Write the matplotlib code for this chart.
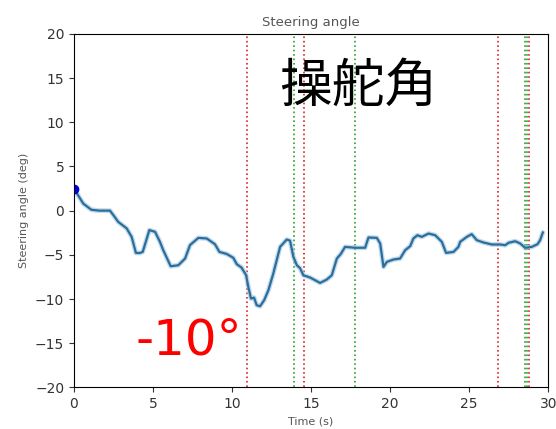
import matplotlib
matplotlib.use("Agg")
import matplotlib.pyplot as plt

plt.rcParams["font.family"] = ["DejaVu Sans", "Noto Sans CJK JP"]

# steering angle trace (s, deg)
time_s = [0.0, 0.1, 0.59, 1.1, 1.6, 2.28, 2.49, 2.8, 3.33, 3.65, 3.92, 4.15, 4.35,
          4.77, 5.13, 5.44, 5.65, 6.12, 6.6, 7.03, 7.34, 7.87, 8.4, 8.92, 9.2,
          9.66, 10.08, 10.3, 10.6, 10.89, 11.03, 11.2, 11.39, 11.56, 11.77,
          12.03, 12.3, 12.61, 13.04, 13.46, 13.67, 13.88, 14.1, 14.3, 14.51,
          14.94, 15.57, 15.99, 16.31, 16.63, 16.88, 17.15, 17.78, 18.42, 18.63,
          19.16, 19.37, 19.58, 19.79, 20.21, 20.63, 20.95, 21.27, 21.47, 21.73,
          22.0, 22.43, 22.85, 23.27, 23.54, 24.01, 24.32, 24.43, 24.85, 25.16,
          25.48, 25.9, 26.43, 26.96, 27.28, 27.49, 27.91, 28.23, 28.54, 28.96,
          29.32, 29.49, 29.66]
angle_deg = [2.4, 2.2, 0.8, 0.1, 0.0, 0.0, -0.5, -1.27, -2.0, -2.97, -4.78, -4.8, -4.67,
             -2.2, -2.4, -3.53, -4.48, -6.29, -6.18, -5.42, -3.9, -3.08, -3.15,
             -3.8, -4.67, -4.9, -5.34, -6.06, -6.44, -7.31, -8.63, -9.95, -9.84,
             -10.7, -10.82, -10.14, -9.0, -7.12, -4.1, -3.27, -3.4, -5.23, -6.18,
             -6.5, -7.31, -7.57, -8.18, -7.8, -7.31, -5.42, -4.9, -4.1, -4.2,
             -4.2, -3.04, -3.08, -3.72, -6.37, -5.8, -5.53, -5.42, -4.48, -4.02,
             -3.15, -2.78, -2.97, -2.59, -2.78, -3.53, -4.78, -4.67, -4.1, -3.53,
             -2.97, -2.66, -3.34, -3.6, -3.83, -3.83, -3.91, -3.64, -3.46, -3.72,
             -4.2, -4.1, -3.8, -3.34, -2.47]

red_marks = [10.95, 14.55, 26.85, 28.8]
green_marks = [13.9, 17.8, 28.5, 28.65]

fig = plt.figure(figsize=(5.56, 4.29), dpi=100)
ax = fig.add_axes([0.133, 0.097, 0.853, 0.824])

for t in red_marks:
    ax.axvline(t, color="#d62728", linestyle=":", linewidth=1.2)
for t in green_marks:
    ax.axvline(t, color="#2ca02c", linestyle=":", linewidth=1.2)

# soft halo under the trace, like the blurred screenshot
ax.plot(time_s, angle_deg, color="#9cc3e0", linewidth=3.5, alpha=0.6,
        solid_capstyle="round", solid_joinstyle="round")
ax.plot(time_s, angle_deg, color="#2b6e9c", linewidth=1.6,
        solid_joinstyle="round")
ax.plot(time_s[0], angle_deg[0], "o", color="#0000dd", markersize=6)

ax.set_xlim(0, 30)
ax.set_ylim(-20, 20)
ax.set_xticks([0, 5, 10, 15, 20, 25, 30])
ax.set_yticks(range(-20, 21, 5))
ax.tick_params(labelsize=10, colors="#333333")
ax.set_title("Steering angle", fontsize=9.5, color="#555555", pad=6)
ax.set_xlabel("Time (s)", fontsize=8, color="#555555")
ax.set_ylabel("Steering angle (deg)", fontsize=8, color="#555555")

fig.text(0.243, 0.174, "-10°", color="red", fontsize=36)
fig.text(0.502, 0.762, "操舵角", color="black", fontsize=38,
         family=["Noto Sans CJK JP", "DejaVu Sans"])

fig.savefig("out.png", dpi=100)
